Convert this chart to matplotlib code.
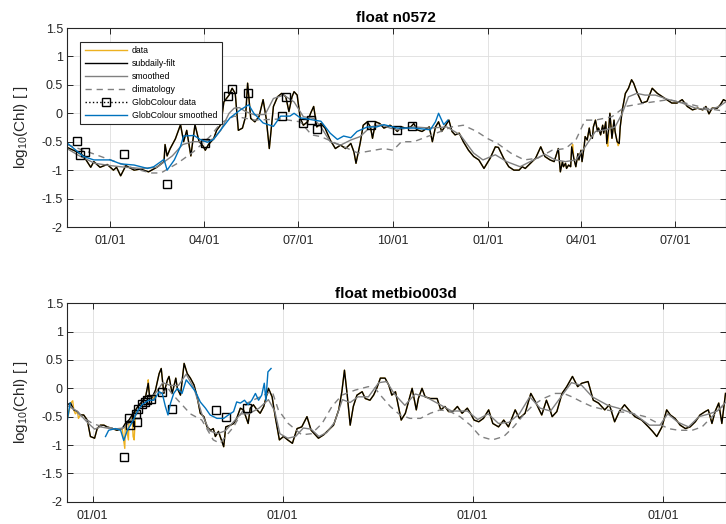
import numpy as np
import matplotlib
matplotlib.use('Agg')
import matplotlib.pyplot as plt
import matplotlib.dates as mdates
from matplotlib.lines import Line2D
from matplotlib.ticker import FuncFormatter

plt.rcParams['font.family'] = ['Liberation Sans', 'DejaVu Sans']
plt.rcParams['axes.unicode_minus'] = False
plt.rcParams['mathtext.fontset'] = 'custom'
plt.rcParams['mathtext.rm'] = 'Liberation Sans'

# ---- float n0572 (days since 2016-01-01) ----
top_base = '2016-01-01'
top_xlim = (-42, 596)
top_days = [-42, -32, -26, -19, -16, -10, -3, 3, 6, 10, 15, 23, 29, 37, 45, 52, 53, 55, 58, 63,
            68, 71, 74, 78, 82, 86, 89, 92, 95, 100, 103, 107, 110, 115, 118, 121, 124, 128, 131, 133,
            136, 140, 144, 148, 151, 154, 158, 162, 166, 170, 173, 176, 178, 181, 184, 187, 191, 194, 197, 200,
            204, 208, 213, 218, 223, 228, 233, 236, 238, 242, 245, 249, 252, 254, 257, 261, 265, 268, 271, 275,
            278, 282, 286, 291, 294, 297, 302, 307, 309, 312, 315, 318, 321, 325, 328, 331, 334, 338, 342, 347,
            352, 357, 362, 368, 373, 376, 381, 386, 391, 396, 399, 402, 407, 412, 417, 421, 426, 430, 434, 436,
            438, 439, 441, 442, 444, 446, 447, 449, 451, 453, 454, 456, 457, 459, 460, 462, 464, 465, 467, 468,
            470, 472, 473, 475, 477, 478, 480, 481, 483, 484, 486, 488, 489, 491, 493, 494, 496, 499, 502, 505,
            507, 510, 515, 520, 525, 530, 535, 539, 544, 549, 554, 559, 564, 569, 574, 577, 580, 583, 588, 591,
            594, 597]
top_filt = [-0.6, -0.68, -0.75, -0.95, -0.85, -0.95, -0.9, -1.0, -0.95, -1.1, -0.92, -1.0, -0.98, -1.03, -0.95, -0.85, -0.55, -0.75, -0.62, -0.45,
            -0.2, -0.5, -0.3, -0.75, -0.2, -0.5, -0.55, -0.65, -0.55, -0.45, -0.3, -0.2, 0.2, 0.32, 0.44, 0.35, -0.3, -0.26, -0.06, 0.53,
            -0.09, -0.15, -0.06, 0.24, -0.09, -0.62, 0.12, 0.29, 0.35, 0.29, 0.03, 0.29, 0.38, 0.32, -0.09, -0.21, -0.15, 0.0, 0.12, -0.24,
            -0.18, -0.26, -0.47, -0.62, -0.56, -0.62, -0.53, -0.68, -0.88, -0.53, -0.21, -0.15, -0.24, -0.44, -0.15, -0.18, -0.26, -0.24, -0.21, -0.26,
            -0.32, -0.24, -0.26, -0.24, -0.18, -0.29, -0.32, -0.26, -0.24, -0.5, -0.24, -0.15, -0.32, -0.21, -0.12, -0.32, -0.38, -0.35, -0.5, -0.65,
            -0.76, -0.82, -0.97, -0.79, -0.59, -0.6, -0.79, -0.94, -1.0, -1.0, -0.94, -0.97, -0.88, -0.79, -0.59, -0.76, -0.82, -0.85, -0.62, -1.03,
            -0.85, -0.94, -0.88, -0.97, -0.91, -0.94, -0.59, -0.79, -0.94, -0.71, -0.82, -0.65, -0.85, -0.59, -0.41, -0.47, -0.26, -0.38, -0.44, -0.24,
            -0.12, -0.32, -0.26, -0.38, -0.21, -0.35, -0.15, -0.53, -0.24, 0.0, -0.44, -0.12, -0.32, -0.5, -0.53, -0.24, 0.06, 0.35, 0.44, 0.59,
            0.53, 0.38, 0.18, 0.21, 0.44, 0.35, 0.29, 0.24, 0.18, 0.18, 0.24, 0.12, 0.06, 0.09, 0.06, 0.12, -0.01, 0.09, 0.09, 0.15,
            0.24, 0.21]
top_raw_days = [448, 482, 492]
top_raw_vals = [-0.55, -0.58, -0.57]
top_smooth_days = [-42, -30, -15, 0, 15, 30, 45, 60, 70, 80, 90, 100, 107, 115, 120, 125, 131, 140, 150, 158,
                   168, 178, 187, 197, 204, 213, 223, 233, 242, 252, 262, 271, 278, 294, 310, 326, 339, 352, 361, 373,
                   384, 397, 410, 421, 431, 441, 451, 460, 470, 480, 489, 496, 502, 510, 518, 528, 541, 554, 567, 580,
                   590, 597]
top_smooth = [-0.62, -0.75, -0.88, -0.92, -0.95, -0.97, -0.95, -0.75, -0.55, -0.5, -0.5, -0.45, -0.3, 0.0, 0.09, 0.1, 0.03, -0.03, -0.02, 0.26,
              0.32, 0.2, -0.06, -0.09, -0.24, -0.5, -0.56, -0.47, -0.41, -0.24, -0.2, -0.26, -0.29, -0.24, -0.26, -0.24, -0.38, -0.7, -0.82, -0.73,
              -0.85, -0.94, -0.82, -0.72, -0.82, -0.85, -0.82, -0.59, -0.32, -0.29, -0.24, 0.0, 0.29, 0.35, 0.32, 0.32, 0.24, 0.18, 0.09, 0.06,
              0.12, 0.21]
top_clim_days = [-42, -23, 0, 23, 39, 49, 65, 81, 97, 107, 120, 140, 165, 184, 195, 204, 240, 265, 274, 282,
                 294, 307, 320, 331, 342, 355, 365, 375, 388, 401, 414, 428, 441, 451, 460, 470, 486, 499, 518, 541,
                 557, 577, 597]
top_clim = [-0.55, -0.67, -0.82, -0.97, -1.05, -1.05, -0.88, -0.67, -0.4, -0.17, -0.05, -0.12, -0.1, -0.15, -0.38, -0.41, -0.7, -0.62, -0.65, -0.5,
            -0.5, -0.41, -0.32, -0.24, -0.21, -0.32, -0.44, -0.53, -0.7, -0.82, -0.79, -0.65, -0.62, -0.47, -0.12, -0.12, -0.06, 0.12, 0.18, 0.24,
            0.18, 0.09, 0.03]
top_gc_days = [-32, -29, -25, 13, 55, 92, 114, 118, 133, 166, 170, 187, 194, 200, 253, 278, 292]
top_gc = [-0.49, -0.74, -0.68, -0.72, -1.24, -0.53, 0.31, 0.42, 0.36, -0.05, 0.29, -0.17, -0.12, -0.28, -0.2, -0.29, -0.23]
top_gcs_days = [-42, -32, -26, -16, 0, 10, 23, 36, 42, 49, 52, 55, 62, 68, 71, 81, 87, 94, 100, 107,
                116, 126, 134, 139, 148, 158, 165, 174, 178, 184, 194, 204, 213, 220, 226, 233, 239, 249, 258, 265,
                278, 294, 310, 315, 318, 323, 327]
top_gcs = [-0.52, -0.67, -0.76, -0.82, -0.82, -0.89, -0.91, -0.97, -0.94, -0.85, -0.81, -1.0, -0.82, -0.58, -0.4, -0.39, -0.46, -0.51, -0.46, -0.29,
           -0.08, 0.06, 0.15, 0.0, -0.17, -0.23, -0.05, -0.05, 0.0, -0.08, -0.11, -0.14, -0.35, -0.46, -0.4, -0.43, -0.32, -0.24, -0.24, -0.2,
           -0.26, -0.26, -0.29, -0.15, 0.0, -0.2, -0.12]

# ---- float metbio003d (days since 2014-01-01) ----
bot_base = '2014-01-01'
bot_xlim = (-49, 1216)
bot_days = [-49, -42, -36, -29, -23, -17, -10, -4, 4, 9, 15, 22, 28, 38, 47, 57, 63, 70, 76, 83,
            89, 95, 102, 107, 110, 115, 121, 128, 132, 137, 144, 147, 153, 160, 163, 169, 176, 182, 188, 195,
            201, 207, 214, 220, 227, 232, 236, 242, 252, 256, 265, 271, 277, 284, 290, 299, 303, 309, 316, 322,
            329, 333, 338, 345, 351, 359, 367, 375, 384, 393, 402, 412, 420, 428, 434, 444, 453, 463, 473, 479,
            484, 489, 495, 501, 508, 518, 524, 533, 540, 546, 553, 562, 569, 575, 582, 586, 593, 601, 607, 614,
            622, 626, 633, 639, 649, 662, 669, 677, 684, 692, 701, 710, 720, 726, 733, 742, 751, 761, 769, 780,
            790, 799, 812, 820, 831, 842, 851, 863, 872, 879, 883, 892, 902, 911, 922, 932, 940, 952, 962, 972,
            984, 993, 1003, 1012, 1022, 1033, 1042, 1055, 1068, 1076, 1084, 1094, 1103, 1110, 1119, 1129, 1139, 1148, 1158, 1167,
            1177, 1183, 1190, 1196, 1203, 1209, 1216]
bot_filt = [-0.29, -0.26, -0.38, -0.41, -0.47, -0.47, -0.56, -0.85, -0.88, -0.71, -0.65, -0.65, -0.68, -0.71, -0.74, -0.71, -0.62, -0.56, -0.47, -0.38,
            -0.29, -0.24, -0.15, 0.09, -0.18, -0.15, -0.03, 0.26, 0.35, -0.09, 0.15, 0.21, -0.09, 0.18, 0.0, -0.12, 0.44, 0.26, 0.18, 0.06,
            -0.15, -0.44, -0.5, -0.68, -0.74, -0.71, -0.85, -0.76, -1.03, -0.68, -0.65, -0.62, -0.53, -0.35, -0.38, -0.62, -0.35, -0.29, -0.38, -0.44,
            -0.32, -0.18, 0.0, -0.15, -0.5, -0.91, -0.85, -0.91, -0.97, -0.71, -0.68, -0.5, -0.74, -0.82, -0.88, -0.82, -0.74, -0.65, -0.38, -0.06,
            0.32, -0.09, -0.65, -0.32, -0.12, -0.06, -0.18, -0.21, -0.12, 0.0, 0.18, 0.18, 0.06, -0.12, -0.06, -0.24, -0.56, -0.44, -0.24, 0.0,
            -0.38, -0.18, 0.0, -0.15, -0.18, -0.18, -0.38, -0.32, -0.41, -0.41, -0.32, -0.44, -0.35, -0.44, -0.56, -0.59, -0.53, -0.38, -0.62, -0.68,
            -0.56, -0.68, -0.38, -0.53, -0.44, -0.09, -0.24, -0.47, -0.21, -0.38, -0.5, -0.41, -0.09, 0.03, 0.21, 0.03, 0.09, 0.12, -0.21, -0.26,
            -0.38, -0.29, -0.59, -0.41, -0.29, -0.41, -0.5, -0.56, -0.68, -0.76, -0.85, -0.68, -0.38, -0.47, -0.53, -0.65, -0.71, -0.68, -0.59, -0.47,
            -0.41, -0.38, -0.62, -0.41, -0.26, -0.62, -0.09]
bot_raw_days = [-47, -38, -33, -27, 62, 66, 69, 74, 78, 80, 92, 104, 107, 118]
bot_raw_vals = [-0.5, -0.22, -0.45, -0.53, -1.06, -0.75, -0.91, -0.6, -0.85, -0.91, -0.3, -0.05, 0.15, -0.2]
bot_smooth_days = [-49, -30, -10, 4, 15, 40, 60, 75, 90, 105, 120, 135, 150, 165, 180, 195, 210, 225, 240, 255,
                   270, 285, 300, 320, 338, 350, 360, 375, 390, 405, 420, 435, 450, 465, 480, 495, 510, 530, 550, 565,
                   580, 600, 620, 640, 660, 690, 720, 740, 760, 780, 800, 820, 840, 860, 880, 900, 920, 940, 960, 990,
                   1010, 1040, 1070, 1090, 1105, 1125, 1145, 1165, 1185, 1200, 1216]
bot_smooth = [-0.3, -0.4, -0.6, -0.72, -0.68, -0.72, -0.7, -0.55, -0.35, -0.2, -0.1, 0.1, 0.05, 0.05, 0.25, 0.0, -0.45, -0.75, -0.8, -0.75,
              -0.6, -0.45, -0.45, -0.35, -0.2, -0.4, -0.8, -0.88, -0.85, -0.7, -0.72, -0.85, -0.78, -0.6, -0.2, -0.25, -0.15, -0.15, 0.1, 0.12,
              -0.1, -0.3, -0.1, -0.15, -0.25, -0.4, -0.4, -0.55, -0.45, -0.62, -0.6, -0.45, -0.15, -0.35, -0.4, -0.15, 0.1, 0.05, -0.15, -0.3,
              -0.35, -0.45, -0.65, -0.65, -0.45, -0.6, -0.68, -0.5, -0.45, -0.4, -0.25]
bot_clim_days = [-45, -20, 0, 20, 40, 55, 70, 85, 100, 115, 130, 145, 153, 188, 210, 232, 245, 271, 297, 322,
                 345, 357, 376, 402, 421, 441, 460, 479, 505, 530, 543, 553, 572, 591, 610, 630, 649, 668, 687, 706,
                 726, 745, 768, 790, 809, 828, 847, 866, 889, 905, 921, 940, 959, 985, 1010, 1036, 1062, 1087, 1106, 1126,
                 1152, 1171, 1190, 1206, 1216]
bot_clim = [-0.3, -0.5, -0.62, -0.68, -0.7, -0.72, -0.6, -0.45, -0.3, -0.2, -0.1, 0.0, -0.1, -0.45, -0.56, -0.91, -0.97, -0.68, -0.26, -0.15,
            -0.05, -0.38, -0.62, -0.82, -0.8, -0.62, -0.32, -0.12, -0.03, 0.03, 0.0, -0.12, -0.32, -0.47, -0.53, -0.53, -0.44, -0.38, -0.41, -0.5,
            -0.65, -0.85, -0.91, -0.85, -0.68, -0.47, -0.29, -0.18, -0.09, -0.09, -0.15, -0.24, -0.32, -0.38, -0.41, -0.44, -0.5, -0.62, -0.71, -0.74,
            -0.74, -0.68, -0.5, -0.35, -0.29]
bot_gc_days = [61, 71, 72, 84, 85, 88, 96, 101, 105, 112, 133, 153, 237, 257, 297]
bot_gc = [-1.22, -0.53, -0.65, -0.45, -0.59, -0.36, -0.28, -0.24, -0.21, -0.18, -0.06, -0.36, -0.39, -0.51, -0.35]
bot_gcs_days = [-49, -43, -36, 25, 31, 44, 54, 60, 67, 73, 80, 86, 95, 108, 118, 128, 134, 140, 145, 150,
                156, 163, 172, 180, 188, 198, 207, 217, 226, 239, 252, 261, 271, 277, 284, 292, 299, 306, 313, 319,
                325, 330, 333, 337, 343]
bot_gcs = [-0.6, -0.26, np.nan, -0.85, -0.74, -0.71, -0.74, -0.92, -0.74, -0.65, -0.53, -0.41, -0.29, -0.21, -0.21, -0.06, -0.09, -0.32, -0.47, -0.26,
           -0.09, 0.0, -0.09, 0.15, 0.06, -0.06, -0.24, -0.35, -0.47, -0.53, -0.53, -0.47, -0.41, -0.24, -0.26, -0.21, -0.29, -0.21, -0.09, -0.21,
           -0.12, 0.09, -0.21, 0.29, 0.35]

ORANGE = '#EDB120'
BLUE = '#0072BD'
GREY = '#808080'
AX_COL = '#262626'
LW = 1.0


def to_dates(base, days):
    return np.datetime64(base) + np.array(days).astype('timedelta64[D]')


def merged(d1, v1, d2, v2):
    d = np.concatenate([d1, d2])
    v = np.concatenate([v1, v2])
    order = np.argsort(d, kind='stable')
    return d[order], v[order]


def draw(ax, base, filt_d, filt_v, raw_d, raw_v, sm_d, sm_v, cl_d, cl_v, gc_d, gc_v, gcs_d, gcs_v):
    rd, rv = merged(filt_d, filt_v, raw_d, raw_v)
    ax.plot(to_dates(base, rd), rv, color=ORANGE, lw=LW)
    ax.plot(to_dates(base, filt_d), filt_v, color='k', lw=LW)
    ax.plot(to_dates(base, sm_d), sm_v, color=GREY, lw=LW)
    ax.plot(to_dates(base, cl_d), cl_v, color=GREY, lw=LW, dashes=(4.5, 3.5))
    ax.plot(to_dates(base, gc_d), gc_v, ls='none', marker='s', ms=5.5, mfc='none', mec='k', mew=1.0)
    ax.plot(to_dates(base, gcs_d), gcs_v, color=BLUE, lw=LW)


def style(ax, base, xlim, title):
    ax.set_xlim(to_dates(base, [xlim[0]])[0], to_dates(base, [xlim[1]])[0])
    ax.set_ylim(-2, 1.5)
    ax.set_yticks(np.arange(-2, 1.51, 0.5))
    ax.yaxis.set_major_formatter(FuncFormatter(lambda v, p: f'{v:g}'))
    ax.xaxis.set_major_formatter(mdates.DateFormatter('%m/%d'))
    ax.grid(True, color='#dedede', lw=0.6)
    ax.set_axisbelow(True)
    ax.tick_params(direction='in', top=True, right=True, length=4, width=0.7,
                   labelsize=9, colors=AX_COL)
    ax.tick_params(axis='x', pad=6)
    ax.tick_params(axis='y', pad=3)
    for s in ax.spines.values():
        s.set_color(AX_COL)
        s.set_linewidth(0.8)
    ax.set_ylabel(r'log$_{10}$(Chl) [ ]', fontsize=11, color=AX_COL, labelpad=8)
    ax.set_title(title, fontsize=11, fontweight='bold', color='k', pad=4)


fig = plt.figure(figsize=(7.26, 5.24), dpi=100)
ax1 = fig.add_axes([67 / 726, 1 - 227 / 524, 658.5 / 726, 199 / 524])
ax2 = fig.add_axes([67 / 726, 1 - 501.7 / 524, 658.5 / 726, 198.4 / 524])

draw(ax1, top_base, top_days, top_filt, top_raw_days, top_raw_vals, top_smooth_days, top_smooth,
     top_clim_days, top_clim, top_gc_days, top_gc, top_gcs_days, top_gcs)
style(ax1, top_base, top_xlim, 'float n0572')
ax1.xaxis.set_major_locator(mdates.MonthLocator(bymonth=[1, 4, 7, 10]))

draw(ax2, bot_base, bot_days, bot_filt, bot_raw_days, bot_raw_vals, bot_smooth_days, bot_smooth,
     bot_clim_days, bot_clim, bot_gc_days, bot_gc, bot_gcs_days, bot_gcs)
style(ax2, bot_base, bot_xlim, 'float metbio003d')
ax2.xaxis.set_major_locator(mdates.YearLocator())

# legend (top panel only)
handles = [
    Line2D([], [], color=ORANGE, lw=LW),
    Line2D([], [], color='k', lw=LW),
    Line2D([], [], color=GREY, lw=LW),
    Line2D([], [], color=GREY, lw=LW, dashes=(4.5, 3.5)),
    Line2D([], [], color='k', lw=1.0, ls=':', marker='s', ms=5.5, mfc='none', mec='k', mew=1.0),
    Line2D([], [], color=BLUE, lw=LW),
]
labels = ['data', 'subdaily-filt', 'smoothed', 'climatology', 'GlobColour data', 'GlobColour smoothed']
leg = ax1.legend(handles, labels, loc='upper left', bbox_to_anchor=(0.02, 0.93), fontsize=6.3,
                 frameon=True, fancybox=False, edgecolor=AX_COL, framealpha=1,
                 handlelength=4.8, handletextpad=0.6, labelspacing=0.45, borderpad=0.5,
                 borderaxespad=0)
leg.get_frame().set_linewidth(0.8)

fig.savefig('out.png', dpi=100)
